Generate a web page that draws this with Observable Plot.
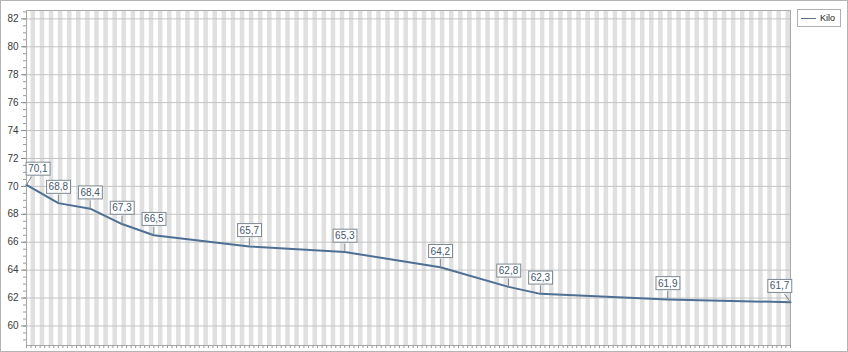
<!DOCTYPE html>
<html>
<head>
<meta charset="utf-8">
<script src="https://cdn.jsdelivr.net/npm/d3@7"></script>
<script src="https://cdn.jsdelivr.net/npm/@observablehq/plot@0.6"></script>
<style>
  body { margin: 0; background: #fff; }
  #wrap { position: relative; width: 848px; height: 352px; overflow: hidden; font-family: "Liberation Sans", Arial, sans-serif; background: #fff; }
  #border { position: absolute; left: 0; top: 0; width: 848px; height: 352px; box-sizing: border-box; border: 1px solid #b4b4b4; pointer-events: none; }
  #legend { position: absolute; left: 797px; top: 9px; width: 44px; height: 18px; box-sizing: border-box; border: 1px solid #b0b0b0; background: #fff; font-size: 9px; color: #222; }
  #legend .sw { position: absolute; left: 3px; top: 8px; width: 15px; height: 0; border-top: 1px solid #5a7090; }
  #legend .lb { position: absolute; left: 22px; top: 3px; line-height: 10px; }
</style>
</head>
<body>
<div id="wrap">
  <div id="legend"><span class="sw"></span><span class="lb">Kilo</span></div>
  <div id="border"></div>
</div>
<script>
// ---- data ----
const dayOffsets = [0, 7, 14, 21, 28, 49, 70, 91, 106, 113, 141, 168];
const kiloValues = [70.1, 68.8, 68.4, 67.3, 66.5, 65.7, 65.3, 64.2, 62.8, 62.3, 61.9, 61.7];
const yTickValues = [60, 62, 64, 66, 68, 70, 72, 74, 76, 78, 80, 82];
const totalDays = 168;
const yMin = 58.6, yMax = 82.6;

const points = dayOffsets.map((d, i) => ({ day: d, kilo: kiloValues[i], label: kiloValues[i].toFixed(1).replace(".", ",") }));
const n = points.length;
const stripeDays = d3.range(1, totalDays, 2);
const allDays = d3.range(0, totalDays + 1);
const minorTicks = d3.range(59, 82.51, 0.5);

const labelShift = (d, i) => (i === 0 ? 2.5 : i === n - 1 ? -2.4 : 0);
const leaderShift = (d, i) => (i === 0 ? 1.1 : i === n - 1 ? -1.3 : 0);

const chart = Plot.plot({
  width: 848,
  height: 352,
  marginLeft: 26,
  marginRight: 58,
  marginTop: 10,
  marginBottom: 7,
  style: { fontFamily: "'Liberation Sans', Arial, sans-serif", fontSize: "10px", background: "transparent" },
  x: { domain: [0, totalDays], axis: null },
  y: { domain: [yMin, yMax], axis: null },
  marks: [
    Plot.rect(stripeDays, { x1: d => d, x2: d => d + 1, y1: yMin, y2: yMax, fill: "#e0e0e0" }),
    Plot.gridY(yTickValues, { stroke: "#c4c4c4", strokeOpacity: 1 }),
    Plot.frame({ stroke: "#a8a8a8" }),
    Plot.axisY(minorTicks, { tickSize: 3, stroke: "#9a9a9a", fill: "none", label: null }),
    Plot.axisY(yTickValues, { tickSize: 5, tickPadding: 3, stroke: "#8a8a8a", fill: "#3a3a3a", label: null, fontSize: 10 }),
    Plot.axisX(allDays, { tickSize: 3, stroke: "#9a9a9a", fill: "none", label: null }),
    Plot.line(points, { x: "day", y: "kilo", stroke: "#4e6f94", strokeWidth: 2 }),
    Plot.link(points, {
      x1: "day", y1: "kilo",
      x2: (d, i) => d.day + leaderShift(d, i), y2: d => d.kilo + 0.6,
      stroke: "#7d8893", strokeWidth: 1
    }),
    Plot.text(points, {
      x: (d, i) => d.day + labelShift(d, i), y: "kilo", text: "label",
      dy: -16, fill: "#44576c", fontSize: 10
    })
  ]
});

const wrap = document.getElementById("wrap");
wrap.insertBefore(chart, wrap.firstChild);
chart.style.position = "absolute";
chart.style.left = "0";
chart.style.top = "0";

// boxes behind the value labels
const ns = "http://www.w3.org/2000/svg";
const labelSet = new Set(points.map(p => p.label));
Array.from(chart.querySelectorAll("text"))
  .filter(t => labelSet.has(t.textContent.trim()))
  .forEach(t => {
    const b = t.getBBox();
    const r = document.createElementNS(ns, "rect");
    r.setAttribute("x", b.x - 2);
    r.setAttribute("y", b.y - 1);
    r.setAttribute("width", b.width + 4);
    r.setAttribute("height", b.height + 2);
    r.setAttribute("fill", "#ffffff");
    r.setAttribute("stroke", "#7d8893");
    r.setAttribute("stroke-width", "1");
    const tr = t.getAttribute("transform");
    if (tr) r.setAttribute("transform", tr);
    t.parentNode.insertBefore(r, t);
  });
</script>
</body>
</html>
